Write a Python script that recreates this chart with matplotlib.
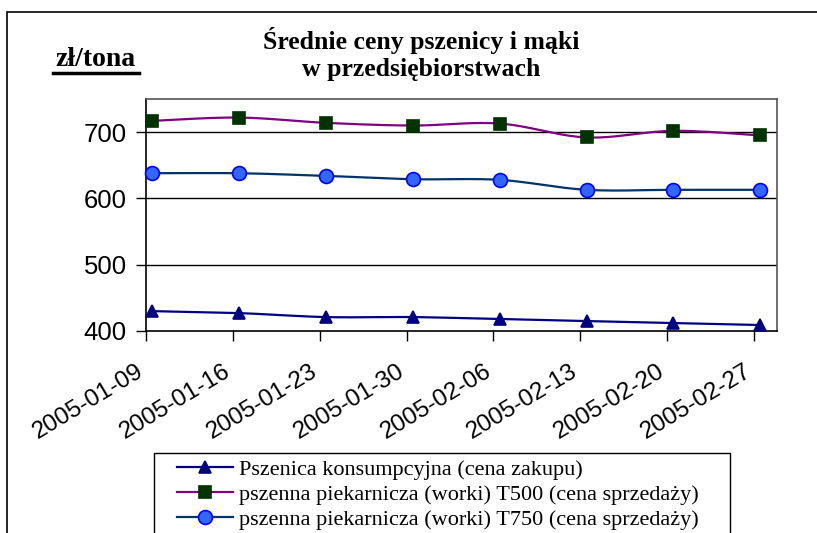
import numpy as np
import matplotlib
matplotlib.use("Agg")
import matplotlib.pyplot as plt
import matplotlib.dates as mdates
import matplotlib.transforms as mtransforms
from matplotlib.patches import Rectangle
from matplotlib.lines import Line2D

# ---- data ----
dates = ["2005-01-09", "2005-01-16", "2005-01-23", "2005-01-30",
         "2005-02-06", "2005-02-13", "2005-02-20", "2005-02-27"]
pszenica = [430, 427, 421, 421, 418, 415, 412, 409]
t500 = [717, 722, 714, 710, 713, 692, 702, 695]
t750 = [638, 638, 634, 629, 628, 613, 613, 613]
labels = ["Pszenica konsumpcyjna (cena zakupu)",
          "pszenna piekarnicza (worki) T500 (cena sprzedaży)",
          "pszenna piekarnicza (worki) T750 (cena sprzedaży)"]
yticks = [400, 500, 600, 700]

W, H = 817, 533
fig = plt.figure(figsize=(W / 100, H / 100), dpi=100)
ax = fig.add_axes([146 / W, 1 - 331 / H, (777 - 146) / W, (331 - 99) / H])

base = mdates.datestr2num(dates)
xpos = base + 0.5  # points centred in their day slot (Excel date axis)


def smooth(x, y, n=20):
    x = np.asarray(x, float)
    y = np.asarray(y, float)
    xs, ys = [], []
    m = len(x)
    for i in range(m - 1):
        p0 = i - 1 if i > 0 else i
        p3 = i + 2 if i + 2 < m else i + 1
        tx1 = (x[i + 1] - x[p0]) / 6.0
        ty1 = (y[i + 1] - y[p0]) / 6.0
        tx2 = (x[p3] - x[i]) / 6.0
        ty2 = (y[p3] - y[i]) / 6.0
        c = [(x[i], y[i]), (x[i] + tx1, y[i] + ty1),
             (x[i + 1] - tx2, y[i + 1] - ty2), (x[i + 1], y[i + 1])]
        t = np.linspace(0, 1, n, endpoint=(i == m - 2))
        b = [(1 - t) ** 3, 3 * (1 - t) ** 2 * t, 3 * (1 - t) * t ** 2, t ** 3]
        xs.append(sum(b[k] * c[k][0] for k in range(4)))
        ys.append(sum(b[k] * c[k][1] for k in range(4)))
    return np.concatenate(xs), np.concatenate(ys)


series = [
    (pszenica, "#000080", "^", "#000080", "#000080", 9),
    (t500, "#800080", "s", "#003300", "#003300", 8),
    (t750, "#003366", "o", "#3366FF", "#0000FF", 10),
]
handles = []
for vals, lc, mk, mfc, mec, ms in series:
    sx, sy = smooth(xpos, vals)
    ax.plot(sx, sy, color=lc, lw=1.6, zorder=3, solid_capstyle="round")
    ax.plot(xpos, vals, ls="none", marker=mk, ms=ms, mfc=mfc, mec=mec,
            mew=1.2, zorder=4, clip_on=False)
    handles.append(Line2D([], [], color=lc, lw=1.6, marker=mk, ms=ms,
                          mfc=mfc, mec=mec, mew=1.2))

x0 = base[0]
ax.set_xlim(x0, x0 + 50.85)
ax.set_ylim(400, 750)
ax.set_yticks(yticks)
ax.set_yticklabels([str(v) for v in yticks], family="Liberation Sans",
                   fontsize=18.5)
ax.set_xticks(base)
ax.set_xticklabels(dates, rotation=31, ha="right", va="top",
                   rotation_mode="anchor",
                   family="Liberation Sans", fontsize=17.5)
ax.tick_params(axis="y", direction="out", length=7, width=1, pad=7)
ax.tick_params(axis="x", direction="out", length=7, width=1, pad=14)
shift = mtransforms.ScaledTranslation(-10 / 100, 0, fig.dpi_scale_trans)
for lab in ax.get_xticklabels():
    lab.set_transform(lab.get_transform() + shift)
for y in yticks[1:]:
    ax.axhline(y, color="black", lw=1, zorder=1)
for s in ["left", "bottom"]:
    ax.spines[s].set_color("black")
    ax.spines[s].set_linewidth(1.2)
for s in ["top", "right"]:
    ax.spines[s].set_color("#555555")
    ax.spines[s].set_linewidth(1.2)

# title and unit
fig.text(421 / W, 1 - 54 / H, "Średnie ceny pszenicy i mąki\nw przedsiębiorstwach",
         ha="center", va="center", family="Liberation Serif",
         fontweight="bold", fontsize=18.5, linespacing=1.25)
fig.text(96 / W, 1 - 59 / H, "zł/tona", ha="center", va="center",
         family="Liberation Serif", fontweight="bold", fontsize=20)
fig.add_artist(Line2D([53 / W, 139 / W], [1 - 73 / H, 1 - 73 / H],
                      color="black", lw=2.5))

# outer chart border (cropped)
fig.add_artist(Rectangle((7 / W, -0.2), 1.2, 1.2 - 12 / H,
                         transform=fig.transFigure, fill=False,
                         edgecolor="black", lw=1.2))

# legend box (cropped at the bottom)
fig.add_artist(Rectangle((154 / W, -0.1), (730 - 154) / W, 0.1 + 1 - 453 / H,
                         transform=fig.transFigure, fill=False,
                         edgecolor="black", lw=1.0))
leg = fig.legend(handles, labels, loc="upper left",
                 bbox_to_anchor=(177 / W, 1 - 459 / H),
                 prop={"family": "Liberation Serif", "size": 16},
                 frameon=False, handlelength=2.5, handletextpad=0.27,
                 labelspacing=0.2, borderpad=0, borderaxespad=0)

fig.savefig("out.png", dpi=100)
